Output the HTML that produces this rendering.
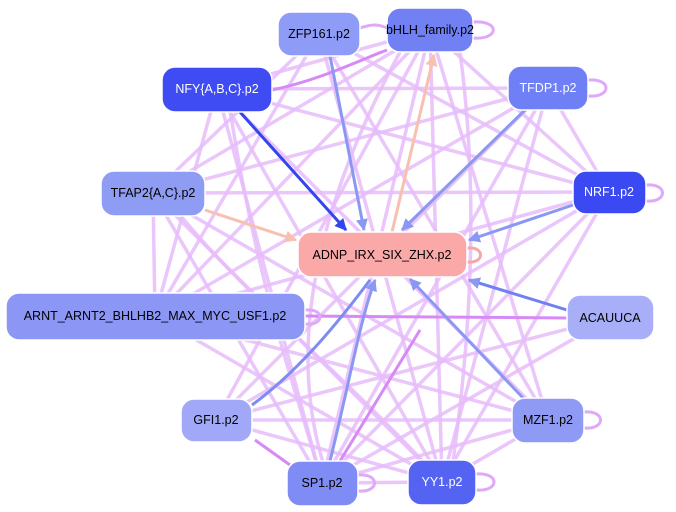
<!DOCTYPE html>
<html><head><meta charset="utf-8"><style>
html,body{margin:0;padding:0;background:#fff;width:676px;height:512px;overflow:hidden}
text{font-family:"Liberation Sans",sans-serif;font-size:12.5px;text-anchor:middle;dominant-baseline:central}
</style></head><body>
<svg width="676" height="512" viewBox="0 0 676 512" xmlns="http://www.w3.org/2000/svg">
<defs>
<marker id="ab" viewBox="0 0 10 10" refX="9" refY="5" markerWidth="4" markerHeight="4" orient="auto"><path d="M0,0L10,5L0,10z" fill="#3346ee"/></marker>
<marker id="al" viewBox="0 0 10 10" refX="9" refY="5" markerWidth="4" markerHeight="4" orient="auto"><path d="M0,0L10,5L0,10z" fill="#8a98f3"/></marker>
<marker id="ap" viewBox="0 0 10 10" refX="9" refY="5" markerWidth="4" markerHeight="4" orient="auto"><path d="M0,0L10,5L0,10z" fill="#f7c0b0"/></marker>
</defs>
<g fill="none" stroke="#e6bcfa" stroke-width="3.5" stroke-opacity="0.85">
<line x1="319" y1="34" x2="153" y2="193"/>
<line x1="319" y1="34" x2="155" y2="316"/>
<line x1="319" y1="34" x2="548" y2="420"/>
<line x1="319" y1="34" x2="442" y2="482"/>
<line x1="319" y1="34" x2="609" y2="192"/>
<line x1="430" y1="30" x2="153" y2="193"/>
<line x1="430" y1="30" x2="155" y2="316"/>
<line x1="430" y1="30" x2="216" y2="420"/>
<line x1="430" y1="30" x2="322" y2="483"/>
<line x1="430" y1="30" x2="442" y2="482"/>
<line x1="430" y1="30" x2="548" y2="420"/>
<line x1="430" y1="30" x2="609" y2="192"/>
<line x1="430" y1="30" x2="217" y2="89"/>
<line x1="217" y1="89" x2="548" y2="88"/>
<line x1="217" y1="89" x2="609" y2="192"/>
<line x1="217" y1="89" x2="548" y2="420"/>
<line x1="217" y1="89" x2="442" y2="482"/>
<line x1="217" y1="89" x2="322" y2="483"/>
<line x1="217" y1="89" x2="155" y2="316"/>
<line x1="548" y1="88" x2="153" y2="193"/>
<line x1="548" y1="88" x2="155" y2="316"/>
<line x1="548" y1="88" x2="322" y2="483"/>
<line x1="548" y1="88" x2="442" y2="482"/>
<line x1="548" y1="88" x2="216" y2="420"/>
<line x1="548" y1="88" x2="609" y2="192"/>
<line x1="153" y1="193" x2="609" y2="192"/>
<line x1="153" y1="193" x2="548" y2="420"/>
<line x1="153" y1="193" x2="442" y2="482"/>
<line x1="153" y1="193" x2="322" y2="483"/>
<line x1="153" y1="193" x2="155" y2="316"/>
<line x1="609" y1="192" x2="155" y2="316"/>
<line x1="609" y1="192" x2="322" y2="483"/>
<line x1="609" y1="192" x2="442" y2="482"/>
<line x1="609" y1="192" x2="216" y2="420"/>
<line x1="155" y1="316" x2="548" y2="420"/>
<line x1="155" y1="316" x2="442" y2="482"/>
<line x1="216" y1="420" x2="548" y2="420"/>
<line x1="216" y1="420" x2="442" y2="482"/>
<line x1="216" y1="420" x2="610" y2="318"/>
<line x1="322" y1="483" x2="548" y2="420"/>
<line x1="322" y1="483" x2="610" y2="318"/>
<line x1="442" y1="482" x2="548" y2="420"/>
<line x1="322" y1="483" x2="442" y2="482"/>
<path d="M230,110 C260,300 300,400 322,483"/>
<path d="M400,52 C320,200 280,350 330,483"/>
<path d="M460,52 C480,200 470,350 450,482"/>
<path d="M180,215 C250,300 350,380 442,482"/>
</g>
<g fill="none" stroke="#d78af5" stroke-width="3">
<path d="M272,90 C320,80 360,60 387,50"/>
<line x1="305" y1="316" x2="567" y2="318"/>
<line x1="255" y1="440" x2="290" y2="465"/>
<line x1="340" y1="461" x2="420" y2="330"/>
</g>
<g fill="none" stroke-width="3">
<line x1="240" y1="112" x2="346" y2="230" stroke="#3346ee" marker-end="url(#ab)"/>
<line x1="330" y1="56" x2="364" y2="230" stroke="#8a98f3" marker-end="url(#al)"/>
<line x1="525" y1="110" x2="402" y2="230" stroke="#8a98f3" marker-end="url(#al)"/>
<line x1="573" y1="205" x2="469" y2="240" stroke="#8a98f3" marker-end="url(#al)"/>
<line x1="567" y1="310" x2="469" y2="280" stroke="#6f80f0" marker-end="url(#al)"/>
<line x1="525" y1="400" x2="410" y2="279" stroke="#8a98f3" marker-end="url(#al)"/>
<path d="M330,461 C350,380 360,320 375,280" stroke="#8a98f3" marker-end="url(#al)"/>
<path d="M252,405 C300,370 340,320 370,280" stroke="#7d8cf0"/>
<line x1="205" y1="210" x2="296" y2="240" stroke="#f7c0b0" marker-end="url(#ap)"/>
<line x1="392" y1="232" x2="434" y2="55" stroke="#f7c0b0" marker-end="url(#ap)"/>
</g>
<g fill="none" stroke="#e0a8f8" stroke-width="3">
<path d="M473,22 C500,20 500,40 473,38"/>
<path d="M588,80 C612,78 612,98 588,96"/>
<path d="M646,185 C668,183 668,203 646,201"/>
<path d="M584,412 C606,410 606,430 584,428"/>
<path d="M476,474 C500,472 500,492 476,490"/>
<path d="M358,475 C380,473 380,493 358,491"/>
<path d="M467,248 C485,246 485,264 467,262" stroke="#f5a8a8"/>
<path d="M305,310 C325,308 325,326 305,324"/>
<path d="M360,28 C372,24 378,24 387,28"/>
</g>
<g stroke="#ffffff" stroke-width="1.5">
<rect x="278" y="12" width="82" height="44" rx="13" fill="#8f9cf7"/>
<rect x="387" y="8" width="86" height="44" rx="13" fill="#7180f3"/>
<rect x="162" y="67" width="110" height="45" rx="13" fill="#3f4cf3"/>
<rect x="508" y="66" width="80" height="44" rx="13" fill="#6f7ff5"/>
<rect x="101" y="171" width="104" height="45" rx="13" fill="#8f9cf4"/>
<rect x="573" y="171" width="73" height="43" rx="13" fill="#3a49f2"/>
<rect x="298" y="232" width="169" height="45" rx="13" fill="#fba8a8"/>
<rect x="6" y="293" width="299" height="47" rx="13" fill="#8b96f5"/>
<rect x="567" y="295" width="87" height="45" rx="13" fill="#a8aef8"/>
<rect x="181" y="399" width="71" height="43" rx="13" fill="#a0a8f7"/>
<rect x="512" y="398" width="72" height="45" rx="13" fill="#8f9af4"/>
<rect x="287" y="461" width="71" height="45" rx="13" fill="#808cf5"/>
<rect x="408" y="460" width="68" height="45" rx="13" fill="#5563f2"/>
</g>
<text x="319" y="34">ZFP161.p2</text>
<text x="430" y="30">bHLH_family.p2</text>
<text x="217" y="89" fill="#fff">NFY{A,B,C}.p2</text>
<text x="548" y="88" fill="#fff">TFDP1.p2</text>
<text x="153" y="193">TFAP2{A,C}.p2</text>
<text x="609" y="192" fill="#fff">NRF1.p2</text>
<text x="382" y="255">ADNP_IRX_SIX_ZHX.p2</text>
<text x="155" y="316">ARNT_ARNT2_BHLHB2_MAX_MYC_USF1.p2</text>
<text x="610" y="318">ACAUUCA</text>
<text x="216" y="420">GFI1.p2</text>
<text x="548" y="420">MZF1.p2</text>
<text x="322" y="483">SP1.p2</text>
<text x="442" y="482" fill="#fff">YY1.p2</text>
</svg>
</body></html>
